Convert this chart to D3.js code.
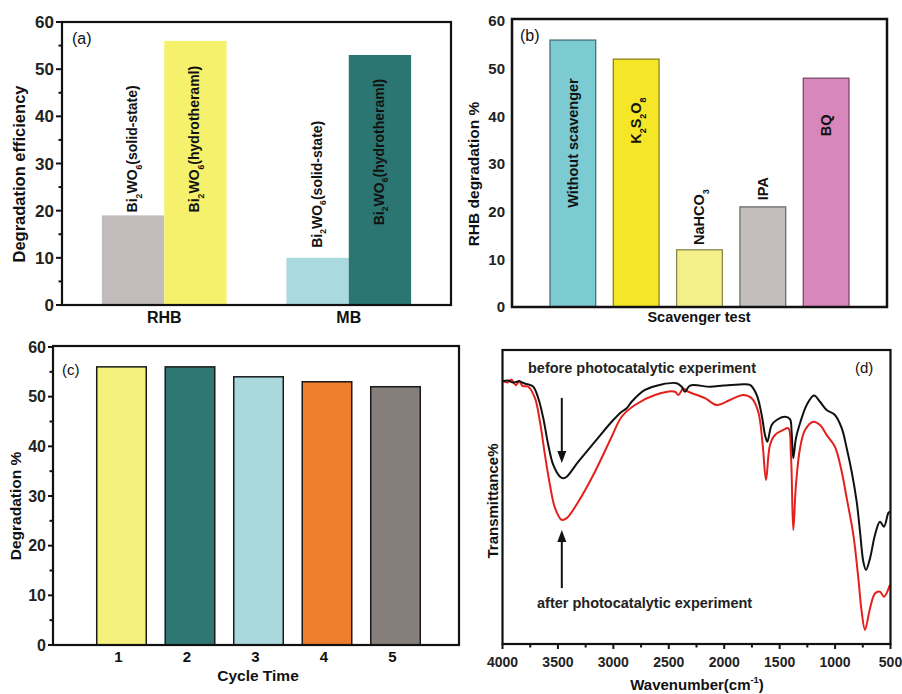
<!DOCTYPE html>
<html><head><meta charset="utf-8">
<script src="https://cdn.jsdelivr.net/npm/d3@7"></script>
<style>body{margin:0;background:#fff} svg{display:block} text{font-family:"Liberation Sans",Arial,Helvetica,sans-serif}</style>
</head><body><svg id="chart" width="902" height="694"></svg>
<script>
// ---------- data ----------
// Panel (a)
const aGroups = ["RHB", "MB"];
const aSeries = ["solid", "hydro"];
const aSolid = [19, 10];
const aHydro = [56, 53];
// Panel (b)
const bCategories = ["Without scavenger", "K2S2O8", "NaHCO3", "IPA", "BQ"];
const bValues = [56, 52, 12, 21, 48];
// Panel (c)
const cCycles = ["1", "2", "3", "4", "5"];
const cValues = [56, 56, 54, 53, 52];
// Tick labels
const yTickValues = [0, 10, 20, 30, 40, 50, 60];
const yMinorValues = [5, 15, 25, 35, 45, 55];
const dTickValues = [4000, 3500, 3000, 2500, 2000, 1500, 1000, 500];
const dMinorValues = [3750, 3250, 2750, 2250, 1750, 1250, 750];
// Panel (d) FTIR spectra (wavenumber cm-1, transmittance a.u.)
const wnBefore = [4000, 3950, 3900, 3850, 3800, 3767, 3722, 3677, 3632, 3587, 3542, 3481, 3450, 3421, 3316, 3166, 3015, 2925, 2880, 2835, 2715, 2564, 2429, 2384, 2354, 2309, 2128, 2008, 1858, 1767, 1707, 1662, 1632, 1611, 1572, 1527, 1452, 1407, 1392, 1377, 1353, 1316, 1256, 1190, 1136, 1076, 1001, 940, 895, 850, 805, 775, 745, 721, 685, 640, 595, 559, 520, 505];
const tBefore = [89.4, 89.6, 88.9, 89.4, 88.6, 88.3, 87.5, 83.6, 76.8, 67.7, 60.9, 56.9, 56.4, 56.9, 62.0, 68.8, 75.6, 79.0, 80.2, 82.4, 86.4, 88.3, 88.7, 87.5, 85.8, 87.9, 87.5, 87.9, 88.3, 88.1, 84.7, 77.9, 71.1, 68.8, 74.5, 76.2, 77.3, 76.5, 72.2, 63.2, 70.0, 75.1, 81.3, 84.5, 82.4, 79.6, 77.9, 73.4, 66.6, 58.6, 48.4, 38.2, 28.0, 25.2, 29.1, 37.1, 41.6, 39.9, 44.5, 45.0];
const wnAfter = [4000, 3950, 3920, 3880, 3850, 3820, 3767, 3707, 3662, 3617, 3572, 3526, 3466, 3421, 3316, 3166, 3015, 2925, 2805, 2624, 2444, 2414, 2369, 2324, 2173, 2068, 1948, 1828, 1752, 1693, 1653, 1623, 1587, 1542, 1467, 1422, 1398, 1377, 1353, 1316, 1271, 1196, 1136, 1076, 1001, 940, 895, 835, 790, 760, 730, 685, 640, 595, 559, 505];
const tAfter = [89.5, 89.0, 90.0, 88.0, 89.5, 87.8, 87.5, 83.6, 75.6, 64.3, 54.1, 46.2, 42.2, 42.8, 48.4, 58.6, 70.5, 77.3, 81.3, 84.7, 85.8, 84.7, 86.9, 85.8, 83.6, 81.3, 83.0, 84.7, 83.6, 79.0, 67.7, 55.8, 67.7, 71.1, 72.8, 73.4, 64.3, 38.8, 54.1, 66.6, 72.8, 75.6, 74.5, 71.1, 67.1, 58.6, 49.6, 37.1, 22.3, 11.0, 4.8, 12.1, 17.2, 17.8, 16.1, 20.1];

// ---------- helpers ----------
const svg = d3.select("#chart");
const FONT = '"Liberation Sans",Arial,Helvetica,sans-serif';

function rich(textSel, parts, fs) {
  let shift = 0;
  parts.forEach(([s, k]) => {
    const target = k === "sub" ? fs * 0.32 : k === "sup" ? -fs * 0.45 : 0;
    const t = textSel.append("tspan").attr("dy", target - shift).text(s);
    if (k !== "n") t.style("font-size", (fs * 0.62) + "px");
    shift = target;
  });
}
function label(g, x, y, str, opts) {
  const t = g.append("text").attr("x", x).attr("y", y)
    .style("font-size", opts.size + "px")
    .style("font-weight", opts.bold === false ? "normal" : "bold")
    .attr("text-anchor", opts.anchor || "middle")
    .attr("fill", opts.fill || "#111");
  if (opts.rotate) t.attr("transform", `rotate(-90,${x},${y})`);
  if (opts.parts) rich(t, opts.parts, opts.size); else t.text(str);
  return t;
}
function leftTicks(g, scale, x, majorLen, minorLen, fs, labelGap) {
  yTickValues.forEach(v => {
    g.append("line").attr("x1", x - majorLen).attr("x2", x).attr("y1", scale(v)).attr("y2", scale(v))
      .attr("stroke", "#111").attr("stroke-width", 2);
    g.append("text").attr("x", x - majorLen - labelGap).attr("y", scale(v)).attr("dy", "0.36em")
      .attr("text-anchor", "end").style("font-size", fs + "px").style("font-weight", "bold")
      .attr("fill", "#222").text(v);
  });
  if (minorLen > 0) yMinorValues.forEach(v => {
    g.append("line").attr("x1", x - minorLen).attr("x2", x).attr("y1", scale(v)).attr("y2", scale(v))
      .attr("stroke", "#111").attr("stroke-width", 2);
  });
}

// ---------- Panel (a) ----------
{
  const g = svg.append("g");
  const L = 62, R = 451, T = 22, B = 305;
  const y = d3.scaleLinear().domain([0, 60]).range([B, T]);
  const x0 = d3.scaleBand().domain(aGroups).range([L, R]).paddingInner(0.324).paddingOuter(0.216);
  const x1 = d3.scaleBand().domain(aSeries).range([0, x0.bandwidth()]);
  const colors = [["#c1bcbb", "#f6f16c"], ["#a9dadf", "#2b7672"]];
  const names = ["solid-state", "hydrotheraml"];
  // label start offsets (px above bar top / absolute anchor in data units)
  const labelStart = [[y(19) - 3, y(19) - 3], [y(10) - 10, y(16.9)]];
  aGroups.forEach((grp, i) => {
    const vals = [aSolid[i], aHydro[i]];
    aSeries.forEach((s, j) => {
      const bx = x0(grp) + x1(s);
      g.append("rect").attr("x", bx).attr("y", y(vals[j])).attr("width", x1.bandwidth())
        .attr("height", y(0) - y(vals[j])).attr("fill", colors[i][j]);
      const cx = bx + x1.bandwidth() / 2 + 4;
      const cy = labelStart[i][j];
      label(g, cx, cy, null, {size: 14, anchor: "start", rotate: true,
        parts: [["Bi", "n"], ["2", "sub"], ["WO", "n"], ["6", "sub"], ["(" + names[j] + ")", "n"]]});
    });
    label(g, x0(grp) + x0.bandwidth() / 2, 323, grp, {size: 16});
  });
  g.append("rect").attr("x", L).attr("y", T).attr("width", R - L).attr("height", B - T)
    .attr("fill", "none").attr("stroke", "#111").attr("stroke-width", 2.2);
  leftTicks(g, y, L, 6, 3.5, 17, 2);
  label(g, 25, 174, "Degradation efficiency", {size: 16.5, rotate: true});
  label(g, 72, 44, "(a)", {size: 16, anchor: "start", bold: false});
}

// ---------- Panel (b) ----------
{
  const g = svg.append("g");
  const L = 512, R = 887, T = 19, B = 307;
  const y = d3.scaleLinear().domain([0, 60]).range([B, 21]);
  const x = d3.scaleBand().domain(bCategories).range([L, R]).paddingInner(0.278).paddingOuter(0.6);
  const colors = ["#7ccad2", "#f5e727", "#f5f18a", "#c3bebb", "#d787bb"];
  const partsList = [
    [["Without scavenger", "n"]],
    [["K", "n"], ["2", "sub"], ["S", "n"], ["2", "sub"], ["O", "n"], ["8", "sub"]],
    [["NaHCO", "n"], ["3", "sub"]],
    [["IPA", "n"]],
    [["BQ", "n"]]
  ];
  const labelPos = [[34.4, "middle"], [39.1, "middle"], [13.0, "start"], [22.4, "start"], [38.1, "middle"]];
  bCategories.forEach((c, i) => {
    g.append("rect").attr("x", x(c)).attr("y", y(bValues[i])).attr("width", x.bandwidth())
      .attr("height", y(0) - y(bValues[i])).attr("fill", colors[i])
      .attr("stroke", d3.color(colors[i]).darker(1.6)).attr("stroke-width", 1.3);
    label(g, x(c) + x.bandwidth() / 2 + 5, y(labelPos[i][0]), null,
      {size: 14.5, anchor: labelPos[i][1], rotate: true, parts: partsList[i]});
  });
  g.append("rect").attr("x", L).attr("y", T).attr("width", R - L).attr("height", B - T)
    .attr("fill", "none").attr("stroke", "#111").attr("stroke-width", 2.5);
  yTickValues.forEach(v => {
    g.append("text").attr("x", 505).attr("y", y(v)).attr("dy", "0.36em").attr("text-anchor", "end")
      .style("font-size", "15px").style("font-weight", "bold").attr("fill", "#222").text(v);
  });
  label(g, 479, 174, "RHB degradation %", {size: 15.5, rotate: true});
  label(g, 699, 322, "Scavenger test", {size: 14.5});
  label(g, 520, 41, "(b)", {size: 16, anchor: "start", bold: false});
}

// ---------- Panel (c) ----------
{
  const g = svg.append("g");
  const L = 53, R = 459, T = 346, B = 645;
  const y = d3.scaleLinear().domain([0, 60]).range([B, 347]);
  const x = d3.scaleBand().domain(cCycles).range([57, 460]).paddingInner(0.277).paddingOuter(0.58);
  const colors = ["#f6f07c", "#2f7773", "#a9d8dd", "#ef7d2c", "#857e7a"];
  cCycles.forEach((c, i) => {
    g.append("rect").attr("x", x(c)).attr("y", y(cValues[i])).attr("width", x.bandwidth())
      .attr("height", y(0) - y(cValues[i])).attr("fill", colors[i])
      .attr("stroke", "#1a1a1a").attr("stroke-width", 1.5);
    label(g, x(c) + x.bandwidth() / 2 - 3, 662, c, {size: 15});
  });
  g.append("rect").attr("x", L).attr("y", T).attr("width", R - L).attr("height", B - T)
    .attr("fill", "none").attr("stroke", "#111").attr("stroke-width", 2.2);
  leftTicks(g, y, L, 5, 3.5, 16, 2);
  label(g, 21, 506, "Degradation %", {size: 15.5, rotate: true});
  label(g, 258, 681, "Cycle Time", {size: 15.5});
  label(g, 62, 375, "(c)", {size: 15, anchor: "start", bold: false});
}

// ---------- Panel (d) ----------
{
  const g = svg.append("g");
  const L = 502.5, R = 890.5, T = 350, B = 644;
  const x = d3.scaleLinear().domain([4000, 500]).range([L, R]);
  const y = d3.scaleLinear().domain([0, 100]).range([B, T]);
  const line = d3.line().x(d => x(d[0])).y(d => y(d[1])).curve(d3.curveCatmullRom.alpha(0.5));
  g.append("path").datum(d3.zip(wnAfter, tAfter)).attr("d", line)
    .attr("fill", "none").attr("stroke", "#e3211c").attr("stroke-width", 2);
  g.append("path").datum(d3.zip(wnBefore, tBefore)).attr("d", line)
    .attr("fill", "none").attr("stroke", "#111").attr("stroke-width", 2);
  g.append("rect").attr("x", L).attr("y", T).attr("width", R - L).attr("height", B - T)
    .attr("fill", "none").attr("stroke", "#111").attr("stroke-width", 2.2);
  dTickValues.forEach(v => {
    g.append("line").attr("x1", x(v)).attr("x2", x(v)).attr("y1", B).attr("y2", B + 5)
      .attr("stroke", "#111").attr("stroke-width", 2);
    g.append("text").attr("x", x(v)).attr("y", 667).attr("text-anchor", "middle")
      .style("font-size", "14px").style("font-weight", "bold").attr("fill", "#222").text(v);
  });
  dMinorValues.forEach(v => {
    g.append("line").attr("x1", x(v)).attr("x2", x(v)).attr("y1", B).attr("y2", B + 3.5)
      .attr("stroke", "#111").attr("stroke-width", 2);
  });
  // arrows
  function arrow(xv, t0, t1) {
    const xa = x(xv), y0 = y(t0), y1 = y(t1);
    const dir = Math.sign(y1 - y0);
    g.append("line").attr("x1", xa).attr("x2", xa).attr("y1", y0).attr("y2", y1 - dir * 10)
      .attr("stroke", "#111").attr("stroke-width", 2);
    g.append("path").attr("d", `M${xa - 4.5},${y1 - dir * 12} L${xa + 4.5},${y1 - dir * 12} L${xa},${y1} Z`)
      .attr("fill", "#111");
  }
  arrow(3465, 83.7, 61.6);
  arrow(3465, 19.0, 38.8);
  label(g, 528, 373, "before photocatalytic experiment", {size: 14.5, anchor: "start", fill: "#222"});
  label(g, 537, 608, "after photocatalytic experiment", {size: 14.5, anchor: "start", fill: "#222"});
  label(g, 855, 373, "(d)", {size: 15, anchor: "start", bold: false});
  label(g, 498, 501, "Transmittance%", {size: 15, rotate: true});
  label(g, 697, 690, null, {size: 15, parts: [["Wavenumber(cm", "n"], ["-1", "sup"], [")", "n"]]});
}
</script></body></html>
